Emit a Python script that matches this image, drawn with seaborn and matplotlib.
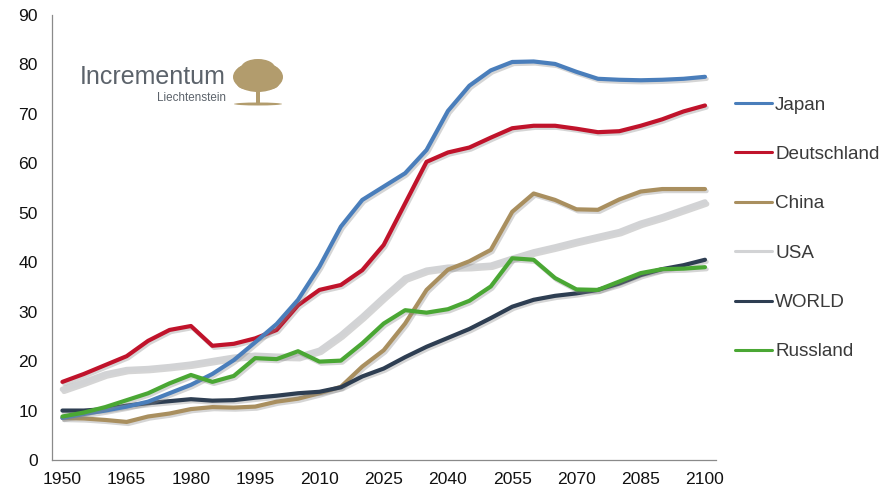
import numpy as np
import pandas as pd
import matplotlib
matplotlib.use("Agg")
import matplotlib.pyplot as plt
import matplotlib.patheffects as pe
from matplotlib.patches import Ellipse, Rectangle
import seaborn as sns

# categories (every 5 years)
years = list(range(1950, 2101, 5))

japan = [8.5, 9.3, 10.0, 10.8, 11.8, 13.5, 15.2, 17.4, 20.2, 23.8, 27.5, 32.4, 39.1, 47.2, 52.6, 55.3,
         58.0, 62.7, 70.6, 75.7, 78.8, 80.5, 80.6, 80.1, 78.5, 77.1, 76.9, 76.8, 76.9, 77.1, 77.5]
deutschland = [15.8, 17.4, 19.2, 21.0, 24.1, 26.3, 27.1, 23.1, 23.5, 24.6, 26.3, 31.3, 34.4, 35.4, 38.4, 43.5,
               51.9, 60.3, 62.2, 63.2, 65.2, 67.1, 67.6, 67.6, 67.0, 66.3, 66.5, 67.6, 68.9, 70.5, 71.7]
china = [8.5, 8.4, 8.1, 7.7, 8.8, 9.4, 10.3, 10.7, 10.6, 10.8, 11.8, 12.4, 13.5, 14.8, 18.9, 22.2,
         27.6, 34.4, 38.5, 40.2, 42.5, 50.2, 53.9, 52.6, 50.7, 50.6, 52.7, 54.3, 54.8, 54.8, 54.8]
usa = [14.3, 15.8, 17.4, 18.3, 18.5, 18.9, 19.4, 20.1, 20.8, 21.2, 21.0, 20.9, 22.2, 25.3, 29.0, 33.0,
       36.8, 38.4, 39.0, 39.1, 39.4, 40.8, 42.1, 43.1, 44.2, 45.2, 46.2, 47.9, 49.2, 50.7, 52.2]
world = [10.0, 10.0, 10.3, 11.0, 11.5, 11.9, 12.3, 12.0, 12.1, 12.6, 13.0, 13.5, 13.8, 14.7, 16.9, 18.5,
         20.8, 22.9, 24.7, 26.5, 28.7, 31.0, 32.4, 33.2, 33.7, 34.4, 35.7, 37.4, 38.6, 39.4, 40.5]
russland = [8.8, 9.6, 10.7, 12.1, 13.5, 15.5, 17.2, 15.8, 17.0, 20.6, 20.4, 22.0, 19.9, 20.1, 23.6, 27.6,
            30.3, 29.8, 30.5, 32.2, 35.1, 40.8, 40.5, 36.8, 34.5, 34.4, 36.1, 37.8, 38.6, 38.7, 39.0]

series_names = ["Japan", "Deutschland", "China", "USA", "WORLD", "Russland"]
series_vals = [japan, deutschland, china, usa, world, russland]
colors = {"Japan": "#4a7ebb", "Deutschland": "#c0132b", "China": "#a98f5f",
          "USA": "#d2d3d5", "WORLD": "#2e3e52", "Russland": "#4aa734"}
widths = {"Japan": 3.0, "Deutschland": 3.0, "China": 3.0, "USA": 3.9, "WORLD": 3.0, "Russland": 3.0}
zorders = {"USA": 2, "China": 3, "WORLD": 4, "Deutschland": 5, "Japan": 6, "Russland": 7}

sns.set_style("white")
plt.rcParams["font.family"] = ["Liberation Sans", "DejaVu Sans"]

fig = plt.figure(figsize=(8.95, 4.95), dpi=100)
ax = fig.add_axes([51.7 / 895, 35 / 495, 664 / 895, 445 / 495])

shadow = [pe.SimpleLineShadow(offset=(1.2, -1.5), shadow_color="#888888", alpha=0.35), pe.Normal()]
handles = []
for name, vals in zip(series_names, series_vals):
    df = pd.DataFrame({"year": years, "value": vals})
    sns.lineplot(data=df, x="year", y="value", color=colors[name], lw=widths[name],
                 ax=ax, zorder=zorders[name], solid_capstyle="round", solid_joinstyle="round")
    line = ax.lines[-1]
    line.set_path_effects(shadow)
    handles.append(plt.Line2D([], [], color=colors[name], lw=2.2))

ax.set_xlim(years[0] - 2.5, years[-1] + 2.5)
ax.set_ylim(0, 90)
ax.set_yticks(range(0, 91, 10))
ax.set_xticks(years[::3])
ax.set_xticks([y - 2.5 for y in years] + [years[-1] + 2.5], minor=True)
ax.tick_params(axis="x", which="major", length=0, pad=9, labelsize=12.6, labelcolor="#111111")
ax.tick_params(axis="x", which="minor", length=5, width=0.9, color="#8a8a8a", direction="out")
ax.tick_params(axis="y", which="major", length=5, width=0.9, color="#8a8a8a", direction="out",
               pad=5, labelsize=12.6, labelcolor="#111111")
ax.set_xlabel("")
ax.set_ylabel("")
for s in ["top", "right"]:
    ax.spines[s].set_visible(False)
for s in ["left", "bottom"]:
    ax.spines[s].set_color("#8a8a8a")
    ax.spines[s].set_linewidth(0.9)
ax.grid(False)

leg = fig.legend(handles, series_names, loc="upper left", bbox_to_anchor=(727 / 895, 1 - 89 / 495),
                 frameon=False, fontsize=13.6, handlelength=2.0, handletextpad=0.15,
                 labelspacing=1.70, borderaxespad=0)
for t in leg.get_texts():
    t.set_color("#3a3a3a")

# logo
fig.text(80 / 895, 1 - 77 / 495, "Incrementum", fontsize=18, color="#5c636b", va="center", ha="left")
fig.text(226 / 895, 1 - 98 / 495, "Liechtenstein", fontsize=8.4, color="#5c636b", va="center", ha="right")
lax = fig.add_axes([225 / 895, 1 - 110 / 495, 65 / 895, 55 / 495])
lax.set_xlim(225, 290)
lax.set_ylim(110, 55)
lax.axis("off")
gold = "#b29c6d"
for cx, cy, w, h in [(258, 77, 50, 30), (246, 75, 22, 20), (270, 75, 22, 20), (258, 68, 34, 18),
                     (250, 84, 26, 12), (266, 84, 26, 12)]:
    lax.add_patch(Ellipse((cx, cy), w, h, color=gold, lw=0))
lax.add_patch(Rectangle((256.5, 85), 3.5, 18, color=gold, lw=0))
lax.add_patch(Ellipse((258, 104), 48, 3, color=gold, lw=0))

fig.savefig("out.png", dpi=100)
